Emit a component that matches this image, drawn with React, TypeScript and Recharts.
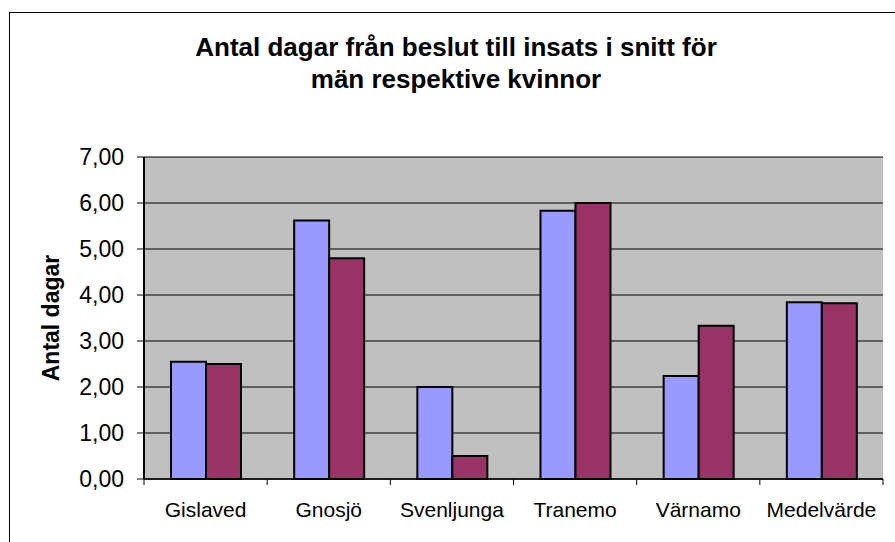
import { BarChart, Bar, XAxis, YAxis, CartesianGrid } from "recharts";

const categories = ["Gislaved", "Gnosjö", "Svenljunga", "Tranemo", "Värnamo", "Medelvärde"];
const man = [2.55, 5.62, 2.0, 5.83, 2.24, 3.84];
const kvinnor = [2.5, 4.8, 0.5, 6.0, 3.33, 3.82];
const yTicks = [0, 1, 2, 3, 4, 5, 6, 7];

const data = categories.map((name, i) => ({ name, man: man[i], kvinnor: kvinnor[i] }));

const FONT = "'Liberation Sans', Arial, sans-serif";
const X_TICK_MARGIN = 23;
const X_TICK_LEN = 6;

function YLabel({ viewBox }: any) {
  const cx = viewBox.x + 6.5;
  const cy = viewBox.y + viewBox.height / 2;
  return (
    <text
      x={cx}
      y={cy}
      transform={`rotate(-90, ${cx}, ${cy})`}
      textAnchor="middle"
      dominantBaseline="central"
      fontFamily={FONT}
      fontSize={23}
      fontWeight="bold"
      fill="#000"
    >
      Antal dagar
    </text>
  );
}

// Excel puts the category tick marks on the boundaries between groups
function CategoryTick({ x, y, payload, index }: any) {
  const half = payload.offset || 0;
  const axisY = y - X_TICK_MARGIN;
  const last = index === categories.length - 1;
  return (
    <g>
      <line x1={x - half} x2={x - half} y1={axisY} y2={axisY + X_TICK_LEN} stroke="#000" />
      {last && <line x1={x + half} x2={x + half} y1={axisY} y2={axisY + X_TICK_LEN} stroke="#000" />}
      <text
        x={x}
        y={y}
        dy="0.71em"
        textAnchor="middle"
        fontFamily={FONT}
        fontSize={21}
        fill="#000"
      >
        {payload.value}
      </text>
    </g>
  );
}

export default function App() {
  return (
    <div
      style={{
        position: "absolute",
        left: 0,
        top: 0,
        width: 895,
        height: 542,
        background: "#fff",
        overflow: "hidden",
        fontFamily: FONT,
      }}
    >
      <div
        style={{
          position: "absolute",
          left: 9,
          top: 12,
          width: 900,
          height: 600,
          borderTop: "1px solid #000",
          borderLeft: "1px solid #000",
        }}
      />
      <div
        style={{
          position: "absolute",
          left: 56,
          width: 800,
          top: 31,
          textAlign: "center",
          fontSize: 26,
          fontWeight: "bold",
          lineHeight: "32px",
          color: "#000",
        }}
      >
        Antal dagar från beslut till insats i snitt för
        <br />
        män respektive kvinnor
      </div>
      <div style={{ position: "absolute", left: 0, top: 0 }}>
        <BarChart
          width={895}
          height={542}
          data={data}
          margin={{ top: 157, right: 12, bottom: 23, left: 44 }}
          barGap={0}
          barSize={35}
        >
          <CartesianGrid
            vertical={false}
            fill="#C0C0C0"
            fillOpacity={1}
            stroke="#000"
            strokeWidth={1}
          />
          <XAxis
            dataKey="name"
            interval={0}
            height={40}
            axisLine={{ stroke: "#000", strokeWidth: 1.5 }}
            tickLine={false}
            tickSize={0}
            tickMargin={X_TICK_MARGIN}
            tick={CategoryTick}
          />
          <XAxis
            xAxisId="t"
            orientation="top"
            height={0}
            tick={false}
            tickLine={false}
            axisLine={{ stroke: "#808080", strokeWidth: 2 }}
          />
          <YAxis
            domain={[0, 7]}
            ticks={yTicks}
            width={100}
            axisLine={{ stroke: "#000", strokeWidth: 2 }}
            tickLine={{ stroke: "#000" }}
            tickSize={7}
            tickMargin={13}
            tick={{ fill: "#000", fontSize: 23, fontFamily: FONT }}
            tickFormatter={(v: number) => v.toFixed(2).replace(".", ",")}
            label={<YLabel />}
          />
          <YAxis
            yAxisId="r"
            orientation="right"
            width={0}
            tick={false}
            tickLine={false}
            axisLine={{ stroke: "#808080", strokeWidth: 2 }}
          />
          <Bar dataKey="man" fill="#9999FF" stroke="#000" strokeWidth={2} isAnimationActive={false} />
          <Bar dataKey="kvinnor" fill="#993366" stroke="#000" strokeWidth={2} isAnimationActive={false} />
        </BarChart>
      </div>
    </div>
  );
}
